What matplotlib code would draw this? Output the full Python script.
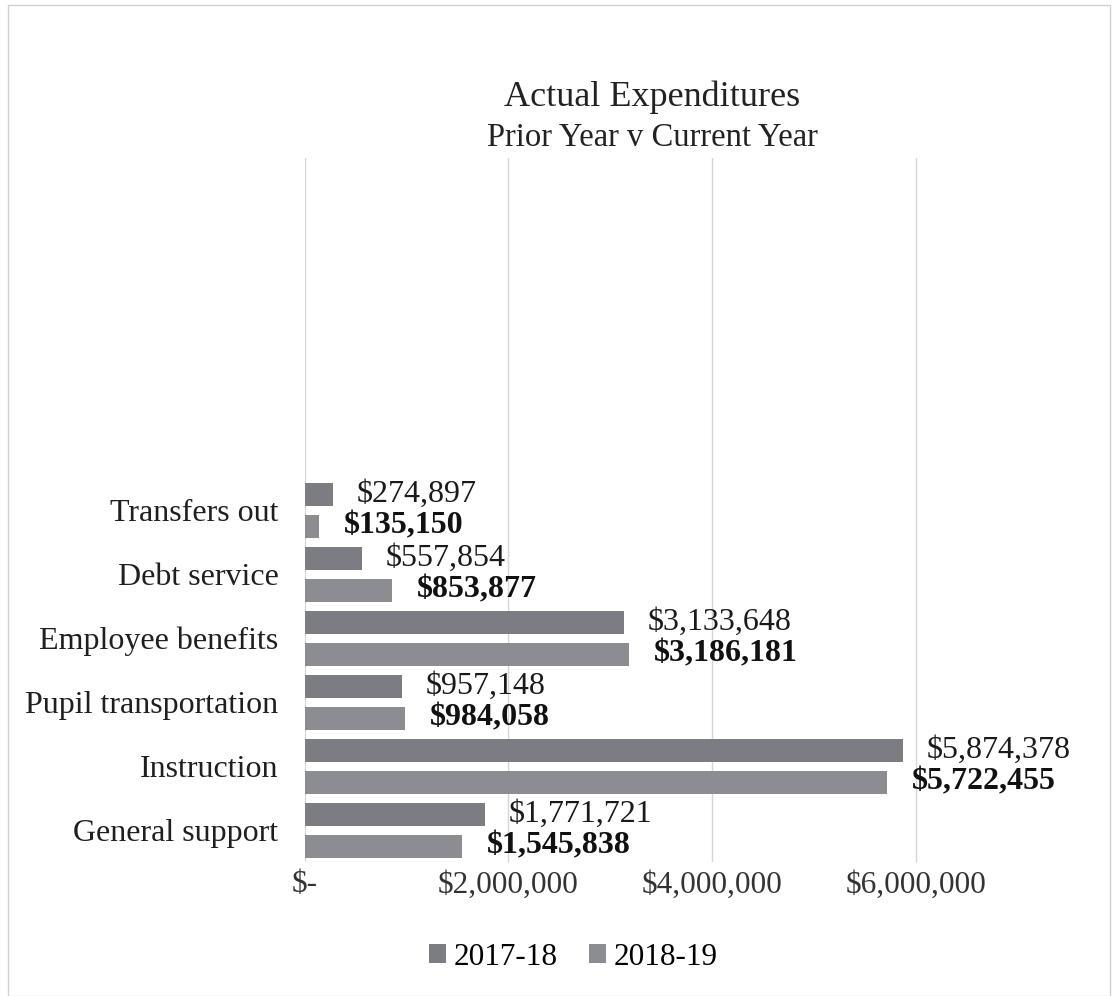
import matplotlib.pyplot as plt
from matplotlib.patches import Rectangle
from matplotlib.ticker import FuncFormatter
import numpy as np

plt.rcParams["font.family"] = ["Liberation Serif", "DejaVu Serif"]

categories = ["General support", "Instruction", "Pupil transportation",
              "Employee benefits", "Debt service", "Transfers out"]
prior_year = [1771721, 5874378, 957148, 3133648, 557854, 274897]     # 2017-18
current_year = [1545838, 5722455, 984058, 3186181, 853877, 135150]   # 2018-19
series_names = ["2017-18", "2018-19"]
x_ticks = [0, 2000000, 4000000, 6000000]

color_prior = "#7b7d82"
color_current = "#8b8d92"


def money(v, _pos=None):
    if v == 0:
        return "$-"
    return f"${v:,.0f}"


fig = plt.figure(figsize=(11.13, 9.96), dpi=100)
fig.patches.append(Rectangle((0.007, 0.0), 0.99, 0.995, transform=fig.transFigure,
                             fill=False, edgecolor="#d0d0d0", linewidth=1))
ax = fig.add_axes([0.274, 0.1345, 0.640, 0.7065])

y = np.arange(len(categories))
h = 0.36
b1 = ax.barh(y + 0.25, prior_year, height=h, color=color_prior,
             label=series_names[0], zorder=3)
b2 = ax.barh(y - 0.25, current_year, height=h, color=color_current,
             label=series_names[1], zorder=3)

# value labels: prior year regular, current year bold
ax.bar_label(b1, labels=[money(v) for v in prior_year], padding=17,
             fontsize=23, color="#1a1a1a")
ax.bar_label(b2, labels=[money(v) for v in current_year], padding=18,
             fontsize=23, fontweight="bold", color="#111111")

ax.set_xlim(0, 7000000)
ax.set_ylim(-0.5, 10.5)
ax.set_xticks(x_ticks)
ax.xaxis.set_major_formatter(FuncFormatter(money))
ax.set_yticks(y)
ax.set_yticklabels(categories)
ax.tick_params(axis="both", length=0, colors="#333333")
ax.tick_params(axis="y", pad=19, labelsize=23, labelcolor="#1f1f1f")
ax.tick_params(axis="x", pad=6, labelsize=22.5)
ax.grid(axis="x", color="#d6d6d6", linewidth=1, zorder=0)
for side in ["top", "right", "bottom", "left"]:
    ax.spines[side].set_visible(False)

fig.text(0.586, 0.902, "Actual Expenditures", ha="center", va="center",
         fontsize=26, color="#222222")
fig.text(0.586, 0.862, "Prior Year v Current Year", ha="center", va="center",
         fontsize=23.5, color="#222222")

fig.legend(handles=[b1, b2], labels=series_names, loc="center",
           bbox_to_anchor=(0.515, 0.039), ncol=2, frameon=False,
           fontsize=22.5, handlelength=0.55, handleheight=0.55,
           handletextpad=0.25, columnspacing=1.0)

fig.savefig("out.png", dpi=100)
